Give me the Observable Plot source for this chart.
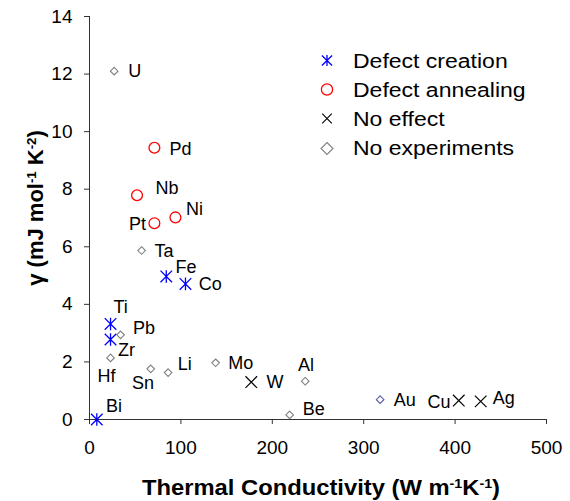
<!DOCTYPE html>
<html>
<head>
<meta charset="utf-8">
<script src="https://cdn.jsdelivr.net/npm/d3@7"></script>
<script src="https://cdn.jsdelivr.net/npm/@observablehq/plot@0.6"></script>
<style>
  html, body { margin: 0; padding: 0; background: #fff; }
  #wrap { position: relative; width: 570px; height: 501px; overflow: hidden; font-family: "Liberation Sans", Arial, sans-serif; }
  .title { position: absolute; font-weight: bold; color: #000; white-space: nowrap; text-align: center; }
  .title sup { font-size: 0.6em; vertical-align: 0.55em; line-height: 0; }
  #xtitle { left: 71px; width: 500px; top: 477px; font-size: 22px; line-height: 1; transform: scaleX(1.08); }
  #ytitle { left: -94px; width: 260px; top: 195px; height: 26px; line-height: 26px; font-size: 22px; transform: rotate(-90deg); }
  #legend { position: absolute; left: 310px; top: 46px; font-size: 20px; color: #000; }
  .li { position: relative; height: 29.2px; display: flex; align-items: center; }
  .li svg { width: 34px; height: 29px; flex: none; }
  .li span { margin-left: 9px; line-height: 1; display: inline-block; white-space: nowrap; transform: scaleX(1.15); transform-origin: left center; }
</style>
</head>
<body>
<div id="wrap"></div>
<script>
// ---- data ----
const elements     = ["U","Pd","Nb","Pt","Ni","Ta","Fe","Co","Ti","Pb","Zr","Hf","Sn","Li","Mo","W","Bi","Be","Al","Au","Cu","Ag"];
const conductivity = [27, 71, 52, 71, 94, 57, 84, 105, 23, 34, 23, 23, 67, 86, 138, 177, 8, 219, 236, 318, 404, 428];
const gammaValues  = [12.1, 9.44, 7.79, 6.82, 7.02, 5.87, 4.97, 4.71, 3.32, 2.94, 2.78, 2.14, 1.76, 1.63, 1.97, 1.30, 0, 0.16, 1.33, 0.69, 0.66, 0.63];
const effects      = ["No experiments","Defect annealing","Defect annealing","Defect annealing","Defect annealing","No experiments","Defect creation","Defect creation","Defect creation","No experiments","Defect creation","No experiments","No experiments","No experiments","No experiments","No effect","Defect creation","No experiments","No experiments","No experiments","No effect","No effect"];
const categories   = ["Defect creation","Defect annealing","No effect","No experiments"];
const xTicks = [0, 100, 200, 300, 400, 500];
const yTicks = [0, 2, 4, 6, 8, 10, 12, 14];

// ---- label placement (style, not data): [dx, dy, anchor] ----
const labelPlacement = {
  U:[14,0,"start"], Pd:[15,1,"start"], Nb:[18.5,-7.5,"start"], Pt:[-8.5,1.3,"end"], Ni:[10.5,-7.7,"start"],
  Ta:[13,0.7,"start"], Fe:[9.3,-9.3,"start"], Co:[13.4,0,"start"], Ti:[3,-16.6,"start"], Pb:[12.4,-7,"start"],
  Zr:[7.6,10.3,"start"], Hf:[-13,18.4,"start"], Sn:[-18.7,14.4,"start"], Li:[9.6,-8,"start"], Mo:[12.7,0.4,"start"],
  W:[15.3,0,"start"], Bi:[9.3,-13.6,"start"], Be:[13,-6,"start"], Al:[-7.3,-15.7,"start"], Au:[13.7,0.3,"start"],
  Cu:[-8.3,1.7,"end"], Ag:[12,-3.3,"start"]
};

const data = elements.map((el, i) => ({element: el, k: conductivity[i], g: gammaValues[i], effect: effects[i]}));

// custom symbols
const asterisk = {draw(ctx, size) { const r = Math.sqrt(size / Math.PI); const d = r * 0.92;
  ctx.moveTo(0, -r); ctx.lineTo(0, r); ctx.moveTo(-d, -d); ctx.lineTo(d, d); ctx.moveTo(-d, d); ctx.lineTo(d, -d); }};
const times = {draw(ctx, size) { const r = Math.sqrt(size / Math.PI);
  ctx.moveTo(-r, -r); ctx.lineTo(r, r); ctx.moveTo(-r, r); ctx.lineTo(r, -r); }};
const diamond = {draw(ctx, size) { const r = Math.sqrt(size / Math.PI);
  ctx.moveTo(0, -r); ctx.lineTo(r, 0); ctx.lineTo(0, r); ctx.lineTo(-r, 0); ctx.closePath(); }};

const style = {
  "Defect creation":  {symbol: asterisk, r: 6.3, stroke: "#0000ff", fill: "none", strokeWidth: 1.3},
  "Defect annealing": {symbol: "circle", r: 5.4, stroke: "#ff0000", fill: "none", strokeWidth: 1.3},
  "No effect":        {symbol: times, r: 5.8, stroke: "#000000", fill: "none", strokeWidth: 1.2},
  "No experiments":   {symbol: diamond, r: 3.8, stroke: d => d.element === "Au" ? "#5a5aa8" : "#808080", fill: "#ffffff", strokeWidth: 1.1}
};

const dotMarks = categories.map(c => {
  const s = style[c];
  return Plot.dot(data.filter(d => d.effect === c), {x: "k", y: "g", ...s});
});

const textMarks = data.map(d =>
  Plot.text([d], {x: "k", y: "g", text: "element", textAnchor: labelPlacement[d.element][2],
    dx: labelPlacement[d.element][0], dy: labelPlacement[d.element][1],
    fontSize: 18, fill: "#000"})
);

const chart = Plot.plot({
  width: 570, height: 501,
  marginLeft: 89, marginRight: 24, marginTop: 16, marginBottom: 82,
  style: {fontFamily: "Liberation Sans, Arial, sans-serif", background: "#fff", overflow: "visible"},
  x: {domain: [0, 500]},
  y: {domain: [0, 14]},
  marks: [
    Plot.axisX({ticks: xTicks, tickSize: 5, tickPadding: 16, fontSize: 19, label: null, stroke: "#333", fill: "#000"}),
    Plot.axisY({ticks: yTicks, tickSize: 5, tickPadding: 12, fontSize: 19, label: null, stroke: "#333", fill: "#000"}),
    Plot.ruleX([0], {stroke: "#333"}),
    Plot.ruleY([0], {stroke: "#333"}),
    ...dotMarks,
    ...textMarks
  ]
});

const wrap = document.getElementById("wrap");
wrap.appendChild(chart);

// axis titles with superscripts
const xt = document.createElement("div");
xt.className = "title"; xt.id = "xtitle";
xt.innerHTML = "Thermal Conductivity (W m<sup>-1</sup>K<sup>-1</sup>)";
wrap.appendChild(xt);
const yt = document.createElement("div");
yt.className = "title"; yt.id = "ytitle";
yt.innerHTML = "γ (mJ mol<sup>-1</sup> K<sup>-2</sup>)";
wrap.appendChild(yt);

// legend
const legendSym = {
  "Defect creation":  {sym: asterisk, size: Math.PI * 5.5 * 5.5, stroke: "#0000ff", fill: "none", sw: 1.3},
  "Defect annealing": {sym: d3.symbolCircle, size: Math.PI * 5.6 * 5.6, stroke: "#ff0000", fill: "none", sw: 1.3},
  "No effect":        {sym: times, size: Math.PI * 4.8 * 4.8, stroke: "#000", fill: "none", sw: 1.1},
  "No experiments":   {sym: diamond, size: Math.PI * 6 * 6, stroke: "#808080", fill: "#fff", sw: 1.1}
};
const legend = document.createElement("div");
legend.id = "legend";
categories.forEach(c => {
  const s = legendSym[c];
  const row = document.createElement("div");
  row.className = "li";
  const path = d3.symbol(s.sym, s.size)();
  row.innerHTML = `<svg viewBox="-17 -14.5 34 29"><path d="${path}" stroke="${s.stroke}" fill="${s.fill}" stroke-width="${s.sw}"/></svg><span>${c}</span>`;
  legend.appendChild(row);
});
wrap.appendChild(legend);
</script>
</body>
</html>
